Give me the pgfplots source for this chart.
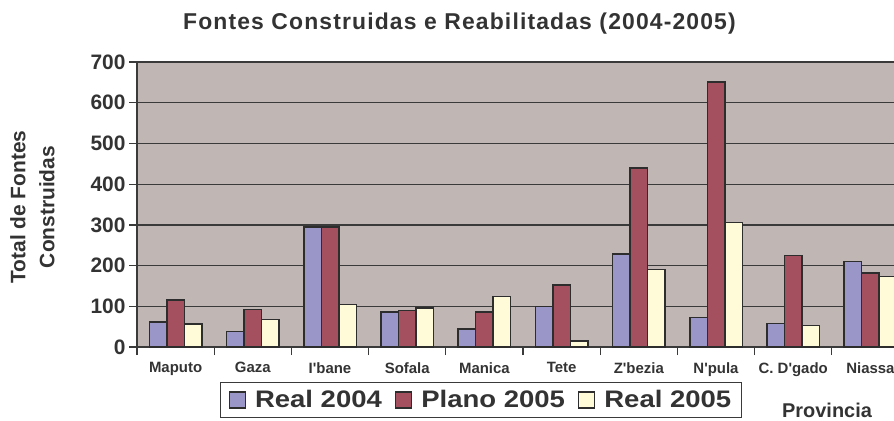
\documentclass[border=0pt]{standalone}
\usepackage{fontspec}
\setmainfont{Liberation Sans}
\newfontfamily\titlefont{Liberation Sans}[LetterSpace=5]
\newfontfamily\legfont{Liberation Sans}[FakeStretch=1.15]
\usepackage{pgfplots}
\pgfplotsset{compat=1.18}
\definecolor{bgc}{RGB}{192,182,180}
\definecolor{cA}{RGB}{155,150,200}
\definecolor{cB}{RGB}{165,80,95}
\definecolor{cC}{RGB}{255,250,215}
\definecolor{ink}{RGB}{51,51,51}
\definecolor{gridc}{RGB}{58,58,58}
\definecolor{barl}{RGB}{45,45,45}
\begin{document}
\begin{tikzpicture}
\useasboundingbox (0,0) rectangle (894bp,-421bp);
\clip (0,0) rectangle (894bp,-421bp);
\begin{axis}[
  at={(137bp,-347bp)}, anchor=south west,
  scale only axis, width=772bp, height=285bp,
  ybar=0pt, bar width=17.5bp,
  xmin=-0.5, xmax=9.5, ymin=0, ymax=700,
  xtick={0,...,9},
  xticklabels={Maputo,Gaza,I\textquotesingle bane,Sofala,Manica,Tete,Z\textquotesingle bezia,N\textquotesingle pula,C. D\textquotesingle gado,Niassa},
  minor xtick={-0.5,0.5,...,9.5},
  ytick={0,100,...,700},
  ymajorgrids,
  major grid style={draw=gridc, line width=1.3bp},
  axis line style={draw=gridc, line width=1.3bp},
  axis x line*=bottom,
  axis y line*=left,
  tick align=outside,
  major tick length=8bp, minor tick length=8bp,
  every major x tick/.append style={draw=none},
  every tick/.append style={draw=gridc, line width=1.3bp},
  axis background/.style={fill=bgc},
  /pgf/number format/assume math mode=true,
  x tick label style={font=\bfseries\fontsize{15}{15}\selectfont, text=ink, yshift=-4bp},
  y tick label style={font=\bfseries\fontsize{21}{21}\selectfont, text=ink},
  title={Fontes Construidas e Reabilitadas (2004-2005)},
  title style={at={(axis description cs:0.4177,1.0923)}, anchor=base, font=\titlefont\bfseries\fontsize{23}{23}\selectfont, text=ink},
  xlabel={Provincia},
  xlabel style={at={(axis description cs:0.8938,-0.2456)}, anchor=base, font=\bfseries\fontsize{20}{20}\selectfont, text=ink},
  ylabel={Total de Fontes\\Construidas},
  ylabel style={at={(axis description cs:-0.1354,0.491)}, anchor=center, align=center, font=\bfseries\fontsize{21}{29}\selectfont, text=ink},
  legend columns=3,
  legend image code/.code={\draw[#1, line width=1.4bp] (0bp,-8bp) rectangle (16bp,8bp);},
  legend style={at={(axis description cs:0.1075,-0.1228)}, anchor=north west,
     draw=gridc, line width=1.3bp, fill=white,
     font=\legfont\bfseries\fontsize{24}{24}\selectfont, text=ink,
     inner xsep=8bp, inner ysep=6bp,
     /tikz/every odd column/.append style={column sep=7bp},
     /tikz/every even column/.append style={column sep=11bp}},
]
\addplot[fill=cA, draw=barl, line width=1.5bp] coordinates {(0,62) (1,38) (2,295) (3,86) (4,44) (5,100) (6,228) (7,72) (8,58) (9,210)};
\addplot[fill=cB, draw=barl, line width=1.5bp] coordinates {(0,115) (1,92) (2,295) (3,90) (4,86) (5,152) (6,440) (7,651) (8,225) (9,182)};
\addplot[fill=cC, draw=barl, line width=1.5bp] coordinates {(0,57) (1,67) (2,105) (3,96) (4,124) (5,15) (6,190) (7,306) (8,53) (9,173)};
\legend{Real 2004, Plano 2005, Real 2005}
\end{axis}
\end{tikzpicture}
\end{document}
